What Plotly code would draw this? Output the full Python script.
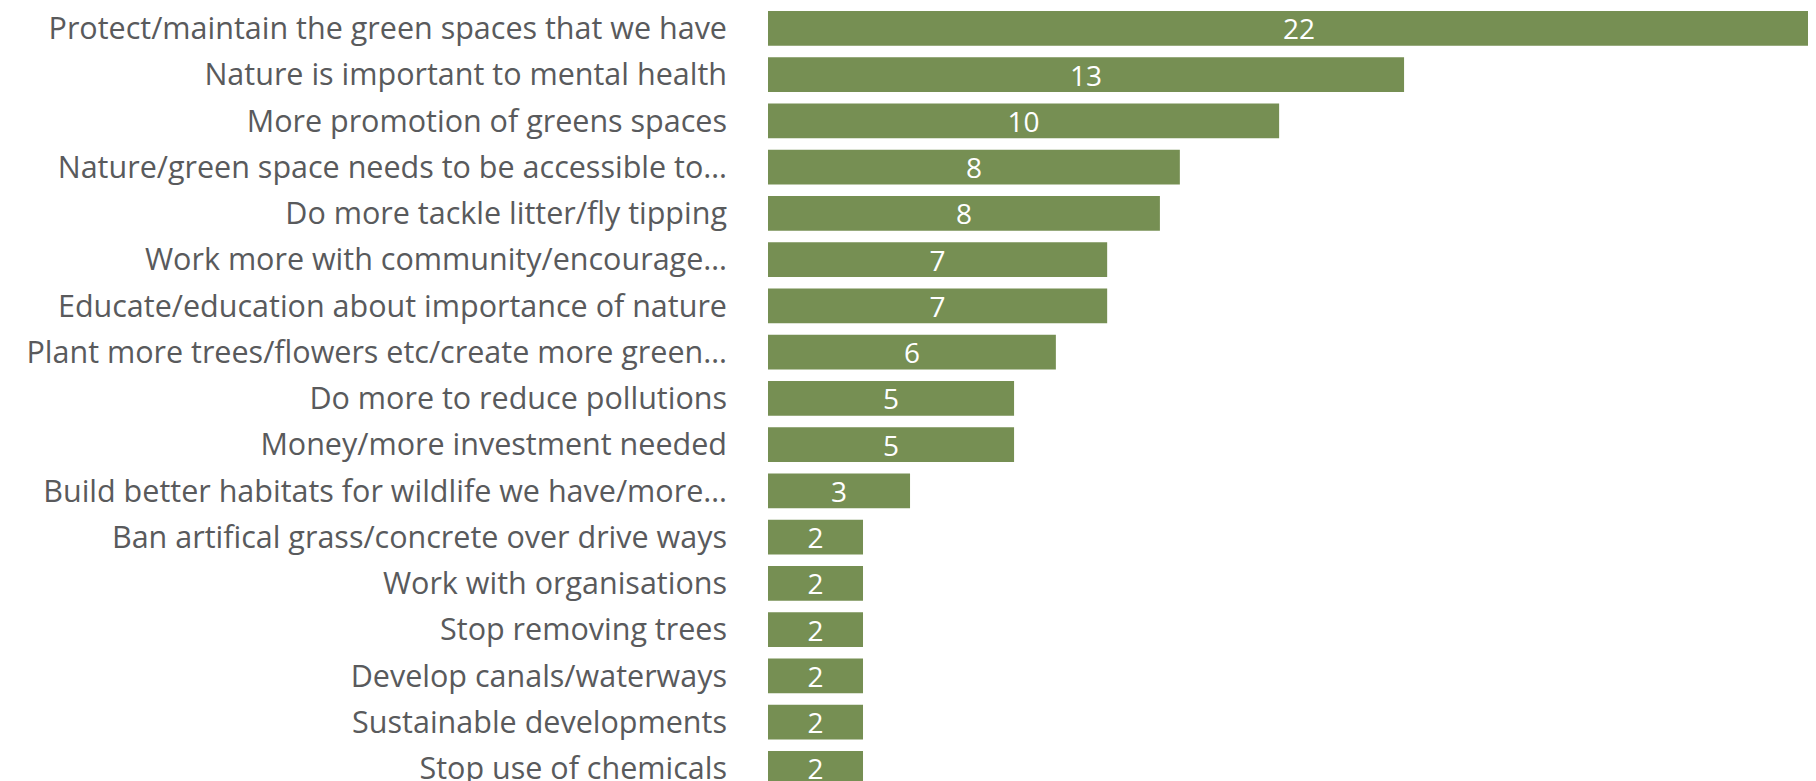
import plotly.graph_objects as go

categories = [
    "Protect/maintain the green spaces that we have",
    "Nature is important to mental health",
    "More promotion of greens spaces",
    "Nature/green space needs to be accessible to…",
    "Do more tackle litter/fly tipping",
    "Work more with community/encourage…",
    "Educate/education about importance of nature",
    "Plant more trees/flowers etc/create more green…",
    "Do more to reduce pollutions",
    "Money/more investment needed",
    "Build better habitats for wildlife we have/more…",
    "Ban artifical grass/concrete over drive ways",
    "Work with organisations",
    "Stop removing trees",
    "Develop canals/waterways",
    "Sustainable developments",
    "Stop use of chemicals",
]
values = [22.36, 13.39, 10.76, 8.67, 8.25, 7.14, 7.14, 6.06, 5.18, 5.18, 2.99,
          2.0, 2.0, 2.0, 2.0, 2.0, 2.0]
labels = ["22", "13", "10", "8", "8", "7", "7", "6", "5", "5", "3",
          "2", "2", "2", "2", "2", "2"]

BAR_COLOR = "#768f53"
TEXT_COLOR = "#595a5c"
FONT = "'Open Sans', Lato, sans-serif"

fig = go.Figure(go.Bar(
    x=values,
    y=categories,
    orientation="h",
    marker=dict(color=BAR_COLOR, line=dict(width=0)),
    text=labels,
    textposition="inside",
    insidetextanchor="middle",
    textangle=0,
    constraintext="none",
    textfont=dict(color="white", size=28, family=FONT),
    hoverinfo="skip",
))

fig.update_layout(
    width=1816,
    height=781,
    margin=dict(l=760, r=0, t=0, b=0, pad=0),
    paper_bgcolor="white",
    plot_bgcolor="white",
    bargap=0.25,
    showlegend=False,
    font=dict(family=FONT, color=TEXT_COLOR, size=28),
)
fig.update_xaxes(
    range=[0, 22.23],
    showticklabels=False,
    showgrid=False,
    zeroline=False,
    showline=False,
    ticks="",
)
fig.update_yaxes(
    range=[16.445, -0.441],
    showgrid=False,
    zeroline=False,
    showline=False,
    ticks="",
    ticklabelstandoff=40,
    tickfont=dict(family=FONT, color=TEXT_COLOR, size=30.5),
    automargin=False,
)

fig.write_html("out.html")
